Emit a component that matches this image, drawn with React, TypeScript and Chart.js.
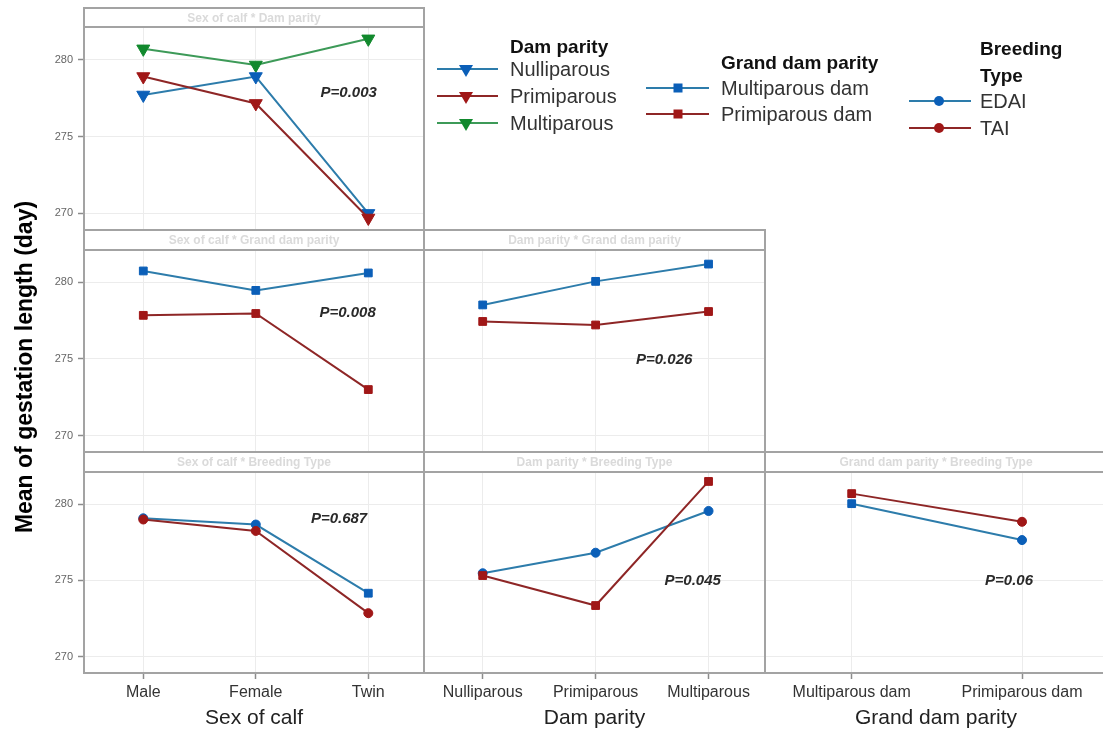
import React, { useEffect, useRef } from 'react';
import { Chart, registerables } from 'chart.js';

Chart.register(...registerables);

// ---- categories and tick values ----
const SEX_OF_CALF = ['Male', 'Female', 'Twin'];
const DAM_PARITY = ['Nulliparous', 'Primiparous', 'Multiparous'];
const GRAND_DAM_PARITY = ['Multiparous dam', 'Primiparous dam'];
const BREEDING_TYPE = ['EDAI', 'TAI'];
const Y_TICKS = [270, 275, 280];

// ---- mean gestation length (days) for each interaction ----
// Sex of calf x Dam parity
const SEX_DAM_NULLIPAROUS = [277.7, 278.9, 270.0];
const SEX_DAM_PRIMIPAROUS = [278.9, 277.15, 269.7];
const SEX_DAM_MULTIPAROUS = [280.7, 279.65, 281.35];
// Sex of calf x Grand dam parity
const SEX_GRAND_MULTIPAROUS = [280.75, 279.48, 280.62];
const SEX_GRAND_PRIMIPAROUS = [277.85, 277.97, 273.0];
// Dam parity x Grand dam parity
const DAM_GRAND_MULTIPAROUS = [278.53, 280.07, 281.2];
const DAM_GRAND_PRIMIPAROUS = [277.45, 277.22, 278.1];
// Sex of calf x Breeding type
const SEX_BREED_EDAI = [279.08, 278.67, 274.16];
const SEX_BREED_TAI = [279.0, 278.25, 272.85];
// Dam parity x Breeding type
const DAM_BREED_EDAI = [275.47, 276.82, 279.56];
const DAM_BREED_TAI = [275.32, 273.35, 281.5];
// Grand dam parity x Breeding type
const GRAND_BREED_EDAI = [280.04, 277.65];
const GRAND_BREED_TAI = [280.7, 278.85];

const P_VALUES = ['P=0.003', 'P=0.008', 'P=0.026', 'P=0.687', 'P=0.045', 'P=0.06'];

// ---- styling ----
const FONT = '"Liberation Sans", Arial, Helvetica, sans-serif';
const BLUE = { line: '#2d7cab', mark: '#0b5fb8' };
const RED = { line: '#8e2626', mark: '#a01717' };
const GREEN = { line: '#3d9a58', mark: '#11892d' };
const FRAME = '#a3a3a3';
const GRID = '#ececec';
const Y_MIN = 268.92;
const Y_MAX = 282.12;

const RADIUS: Record<string, number> = { triangle: 7.5, rect: 5.5, circle: 4.5 };

type Color = { line: string; mark: string };

function series(values: number[], color: Color, styles: string[], order: number) {
  return {
    data: values.map((v, i) => ({ x: i, y: v })),
    borderColor: color.line,
    borderWidth: 2,
    pointStyle: styles,
    pointRadius: styles.map((s) => RADIUS[s]),
    pointRotation: styles.map((s) => (s === 'triangle' ? 180 : 0)),
    pointBackgroundColor: color.mark,
    pointBorderColor: color.mark,
    pointBorderWidth: 1,
    tension: 0,
    fill: false,
    clip: false,
    order,
  };
}
const all = (n: number, s: string) => Array.from({ length: n }, () => s);

const COLS = [
  { left: 84, right: 424, xMin: -0.527, xMax: 2.495 },
  { left: 424, right: 765, xMin: -0.52, xMax: 2.5 },
  { left: 765, right: 1107, xMin: -0.509, xMax: 1.499 },
];
const ROWS = [
  { header: 8, top: 27, bottom: 230 },
  { header: 230, top: 250, bottom: 452 },
  { header: 452, top: 472, bottom: 673 },
];
const PAGE_H = 731;

type PanelDef = {
  row: number;
  col: number;
  cats: string[];
  heading: string;
  axisTitle?: string;
  datasets: any[];
  p: { text: string; x: number; y: number };
};

const PANELS: PanelDef[] = [
  {
    row: 0, col: 0, cats: SEX_OF_CALF, heading: 'Sex of calf * Dam parity',
    datasets: [
      series(SEX_DAM_NULLIPAROUS, BLUE, all(3, 'triangle'), 1),
      series(SEX_DAM_PRIMIPAROUS, RED, all(3, 'triangle'), 0),
      series(SEX_DAM_MULTIPAROUS, GREEN, all(3, 'triangle'), 2),
    ],
    p: { text: P_VALUES[0], x: 1.826, y: 277.84 },
  },
  {
    row: 1, col: 0, cats: SEX_OF_CALF, heading: 'Sex of calf * Grand dam parity',
    datasets: [
      series(SEX_GRAND_MULTIPAROUS, BLUE, all(3, 'rect'), 1),
      series(SEX_GRAND_PRIMIPAROUS, RED, all(3, 'rect'), 0),
    ],
    p: { text: P_VALUES[1], x: 1.816, y: 278.04 },
  },
  {
    row: 1, col: 1, cats: DAM_PARITY, heading: 'Dam parity * Grand dam parity',
    datasets: [
      series(DAM_GRAND_MULTIPAROUS, BLUE, all(3, 'rect'), 1),
      series(DAM_GRAND_PRIMIPAROUS, RED, all(3, 'rect'), 0),
    ],
    p: { text: P_VALUES[2], x: 1.607, y: 274.93 },
  },
  {
    row: 2, col: 0, cats: SEX_OF_CALF, heading: 'Sex of calf * Breeding Type', axisTitle: 'Sex of calf',
    datasets: [
      series(SEX_BREED_EDAI, BLUE, ['circle', 'circle', 'rect'], 1),
      series(SEX_BREED_TAI, RED, all(3, 'circle'), 0),
    ],
    p: { text: P_VALUES[3], x: 1.74, y: 279.04 },
  },
  {
    row: 2, col: 1, cats: DAM_PARITY, heading: 'Dam parity * Breeding Type', axisTitle: 'Dam parity',
    datasets: [
      series(DAM_BREED_EDAI, BLUE, all(3, 'circle'), 1),
      series(DAM_BREED_TAI, RED, all(3, 'rect'), 0),
    ],
    p: { text: P_VALUES[4], x: 1.86, y: 274.98 },
  },
  {
    row: 2, col: 2, cats: GRAND_DAM_PARITY, heading: 'Grand dam parity * Breeding Type', axisTitle: 'Grand dam parity',
    datasets: [
      series(GRAND_BREED_EDAI, BLUE, ['rect', 'circle'], 1),
      series(GRAND_BREED_TAI, RED, ['rect', 'circle'], 0),
    ],
    p: { text: P_VALUES[5], x: 0.924, y: 274.98 },
  },
];

// Writes the p-value of the interaction at a data position inside the panel
const pLabelPlugin = {
  id: 'pLabel',
  afterDatasetsDraw(chart: any, _args: any, opts: any) {
    if (!opts || !opts.text) return;
    const { ctx, scales } = chart;
    ctx.save();
    ctx.font = `italic bold 15px ${FONT}`;
    ctx.fillStyle = '#2a2a2a';
    ctx.textAlign = 'center';
    ctx.textBaseline = 'middle';
    ctx.fillText(opts.text, scales.x.getPixelForValue(opts.x), scales.y.getPixelForValue(opts.y));
    ctx.restore();
  },
};

const noPadding = (s: any) => {
  s.paddingTop = 0;
  s.paddingBottom = 0;
  s.paddingLeft = 0;
  s.paddingRight = 0;
};

function Panel({ def }: { def: PanelDef }) {
  const ref = useRef<HTMLCanvasElement>(null);
  const col = COLS[def.col];
  const row = ROWS[def.row];
  const isLeft = def.col === 0;
  const isBottom = def.row === 2;
  const axisW = isLeft ? col.left : 0;
  const axisH = isBottom ? PAGE_H - row.bottom : 0;
  const canvasLeft = col.left - axisW;
  const w = col.right - canvasLeft;
  const h = row.bottom - row.top + axisH;

  useEffect(() => {
    const cats = def.cats;
    const chart = new Chart(ref.current as HTMLCanvasElement, {
      type: 'line',
      data: { datasets: def.datasets },
      plugins: [pLabelPlugin as any],
      options: {
        responsive: false,
        maintainAspectRatio: false,
        animation: false,
        layout: { padding: 0, autoPadding: false },
        plugins: {
          legend: { display: false },
          tooltip: { enabled: false },
          pLabel: def.p,
        } as any,
        scales: {
          x: {
            type: 'linear',
            min: col.xMin,
            max: col.xMax,
            afterBuildTicks: (s: any) => {
              s.ticks = cats.map((_, i) => ({ value: i }));
            },
            afterFit: (s: any) => {
              s.height = axisH;
              noPadding(s);
            },
            ticks: {
              display: isBottom,
              autoSkip: false,
              maxRotation: 0,
              padding: 4,
              color: '#333',
              font: { family: FONT, size: 16 },
              callback: (v: any) => cats[v as number],
            },
            grid: { color: GRID, lineWidth: 1, drawTicks: isBottom, tickLength: 6, tickColor: '#8c8c8c', tickWidth: 1.5 },
            border: { display: false },
            title: {
              display: !!def.axisTitle,
              text: def.axisTitle || '',
              color: '#222',
              font: { family: FONT, size: 21 },
              padding: { top: 0, bottom: 0 },
            },
          },
          y: {
            type: 'linear',
            min: Y_MIN,
            max: Y_MAX,
            afterBuildTicks: (s: any) => {
              s.ticks = Y_TICKS.map((v) => ({ value: v }));
            },
            afterFit: (s: any) => {
              s.width = axisW;
              noPadding(s);
            },
            ticks: {
              display: isLeft,
              padding: 5,
              color: '#666',
              font: { family: FONT, size: 11 },
            },
            grid: { color: GRID, lineWidth: 1, drawTicks: isLeft, tickLength: 6, tickColor: '#8c8c8c', tickWidth: 1.5 },
            border: { display: false },
          },
        },
      } as any,
    });
    return () => chart.destroy();
  }, []);

  return (
    <canvas
      ref={ref}
      width={w}
      height={h}
      style={{ position: 'absolute', left: canvasLeft, top: row.top, width: w, height: h }}
    />
  );
}

function Frames() {
  return (
    <>
      {PANELS.map((d, i) => {
        const c = COLS[d.col];
        const r = ROWS[d.row];
        return (
          <React.Fragment key={i}>
            <div
              style={{
                position: 'absolute', left: c.left - 1, top: r.top - 1,
                width: c.right - c.left + 2, height: r.bottom - r.top + 2,
                border: `2px solid ${FRAME}`, boxSizing: 'border-box',
              }}
            />
            <div
              style={{
                position: 'absolute', left: c.left - 1, top: r.header - 1,
                width: c.right - c.left + 2, height: r.top - r.header + 2,
                border: `2px solid ${FRAME}`, boxSizing: 'border-box',
                display: 'flex', alignItems: 'center', justifyContent: 'center',
                font: `bold 12px ${FONT}`, color: '#dadada', whiteSpace: 'nowrap',
              }}
            >
              {d.heading}
            </div>
          </React.Fragment>
        );
      })}
    </>
  );
}

function Marker({ kind, x, y, color }: { kind: string; x: number; y: number; color: string }) {
  if (kind === 'triangle') {
    return <polygon points={`${x - 7},${y - 4} ${x + 7},${y - 4} ${x},${y + 8}`} fill={color} />;
  }
  if (kind === 'rect') {
    return <rect x={x - 4.5} y={y - 4.5} width={9} height={9} fill={color} />;
  }
  return <circle cx={x} cy={y} r={5} fill={color} />;
}

type LegendGroup = {
  titles: { text: string; y: number }[];
  textX: number;
  line: [number, number];
  markX: number;
  kind: string;
  items: { text: string; y: number; color: Color }[];
};

const LEGEND: LegendGroup[] = [
  {
    titles: [{ text: 'Dam parity', y: 46 }],
    textX: 510, line: [437, 498], markX: 466, kind: 'triangle',
    items: [
      { text: DAM_PARITY[0], y: 69, color: BLUE },
      { text: DAM_PARITY[1], y: 96, color: RED },
      { text: DAM_PARITY[2], y: 123, color: GREEN },
    ],
  },
  {
    titles: [{ text: 'Grand dam parity', y: 62 }],
    textX: 721, line: [646, 709], markX: 678, kind: 'rect',
    items: [
      { text: GRAND_DAM_PARITY[0], y: 88, color: BLUE },
      { text: GRAND_DAM_PARITY[1], y: 114, color: RED },
    ],
  },
  {
    titles: [{ text: 'Breeding', y: 48 }, { text: 'Type', y: 75 }],
    textX: 980, line: [909, 971], markX: 939, kind: 'circle',
    items: [
      { text: BREEDING_TYPE[0], y: 101, color: BLUE },
      { text: BREEDING_TYPE[1], y: 128, color: RED },
    ],
  },
];

function Legend() {
  return (
    <svg
      width={1103}
      height={731}
      style={{ position: 'absolute', left: 0, top: 0, pointerEvents: 'none' }}
    >
      {LEGEND.map((g, gi) => (
        <g key={gi}>
          {g.titles.map((t, ti) => (
            <text key={ti} x={g.textX} y={t.y} dominantBaseline="central"
              style={{ font: `bold 19px ${FONT}`, fill: '#111' }}>
              {t.text}
            </text>
          ))}
          {g.items.map((it, ii) => (
            <g key={ii}>
              <line x1={g.line[0]} x2={g.line[1]} y1={it.y} y2={it.y} stroke={it.color.line} strokeWidth={2} />
              <Marker kind={g.kind} x={g.markX} y={it.y} color={it.color.mark} />
              <text x={g.textX} y={it.y} dominantBaseline="central"
                style={{ font: `20px ${FONT}`, fill: '#333' }}>
                {it.text}
              </text>
            </g>
          ))}
        </g>
      ))}
    </svg>
  );
}

export default function App() {
  useEffect(() => {
    Chart.defaults.font.family = FONT;
  }, []);
  return (
    <div
      style={{
        position: 'absolute', left: 0, top: 0, width: 1103, height: 731,
        overflow: 'hidden', background: '#fff', fontFamily: FONT,
      }}
    >
      {PANELS.map((d, i) => (
        <Panel key={i} def={d} />
      ))}
      <Frames />
      <Legend />
      <div
        style={{
          position: 'absolute', left: 24, top: 367,
          transform: 'translate(-50%, -50%) rotate(-90deg)',
          font: `bold 23px ${FONT}`, color: '#000', whiteSpace: 'nowrap',
        }}
      >
        Mean of gestation length (day)
      </div>
    </div>
  );
}
